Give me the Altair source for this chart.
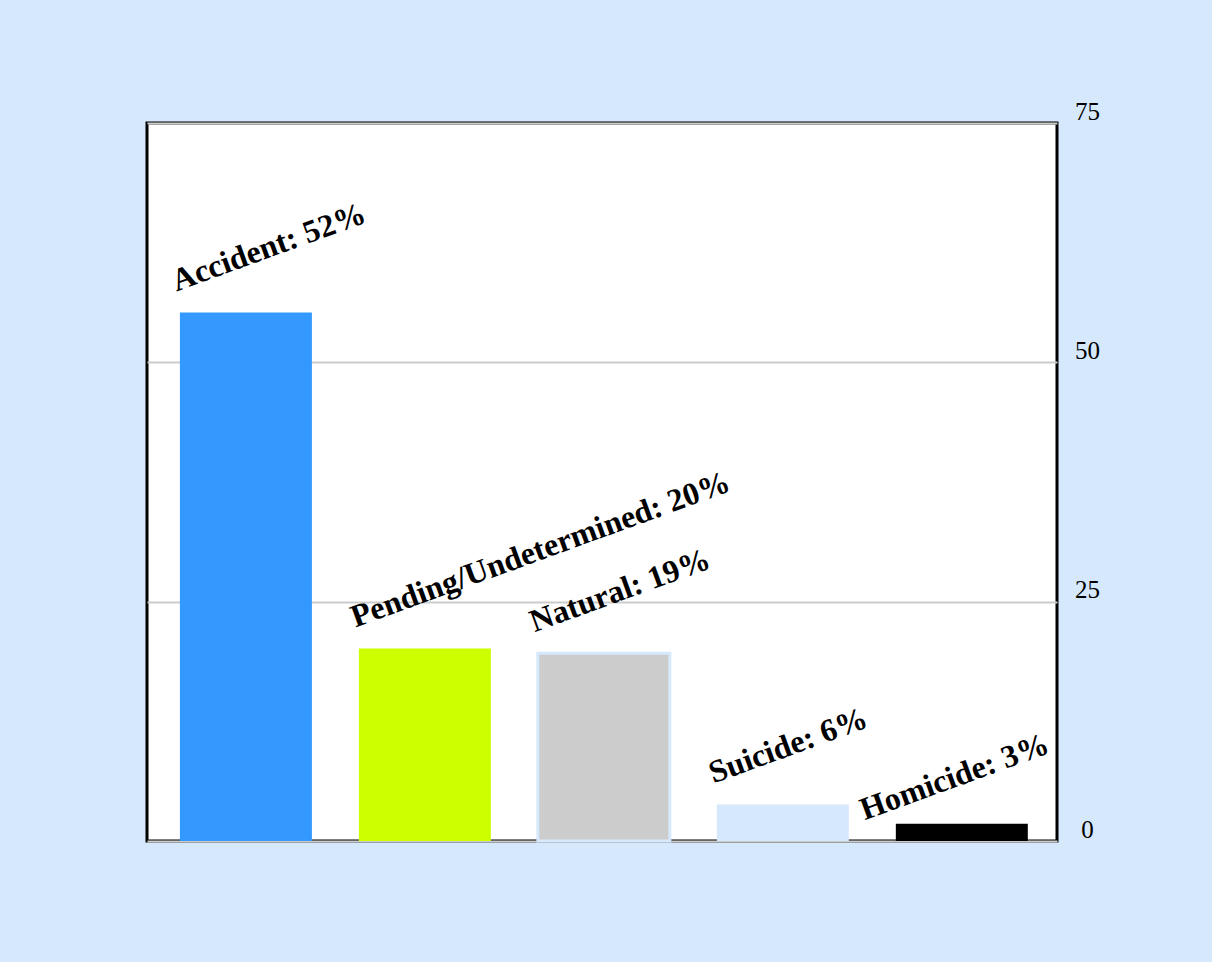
import altair as alt
import pandas as pd

causes = ["Accident", "Pending/Undetermined", "Natural", "Suicide", "Homicide"]
values = [55.2, 20.1, 19.6, 3.8, 1.8]
labels = ["Accident: 52%", "Pending/Undetermined: 20%", "Natural: 19%", "Suicide: 6%", "Homicide: 3%"]
colors = ["#3399ff", "#ccff00", "#cccccc", "#d5e8fc", "#000000"]
y_ticks = [0, 25, 50, 75]

df = pd.DataFrame({"cause": causes, "value": values, "label": labels})

x_enc = alt.X("cause:N", sort=causes, axis=None,
              scale=alt.Scale(paddingInner=0.2626, paddingOuter=0.1735, align=0.53))
y_scale = alt.Scale(domain=[0, 75], nice=False)

bars = alt.Chart(df).mark_bar(stroke="#d5e8fc").encode(
    x=x_enc,
    y=alt.Y("value:Q", scale=y_scale,
            axis=alt.Axis(orient="right", values=y_ticks, title=None, domain=False,
                          ticks=False, grid=True, gridColor="#cccccc", gridWidth=2,
                          labelFont="Liberation Serif", labelFontSize=25,
                          labelColor="#000000", labelAlign="center", labelPadding=30,
                          labelBaseline="alphabetic", labelOffset=-4)),
    color=alt.Color("cause:N", scale=alt.Scale(domain=causes, range=colors), legend=None),
    strokeWidth=alt.condition(alt.datum.cause == "Natural", alt.value(3), alt.value(0)),
)

text_base = dict(align="left", baseline="alphabetic", angle=340,
                 font="Liberation Serif", fontWeight="bold", fontSize=32, color="#000000")

txt_main = alt.Chart(df).transform_filter(alt.datum.cause != "Homicide").mark_text(
    dx=4, dy=-21, **text_base
).encode(
    x=alt.X("cause:N", sort=causes, bandPosition=0),
    y=alt.Y("value:Q", scale=y_scale),
    text="label:N",
)

txt_last = alt.Chart(df).transform_filter(alt.datum.cause == "Homicide").mark_text(
    dx=-28, dy=-14, **text_base
).encode(
    x=alt.X("cause:N", sort=causes, bandPosition=0),
    y=alt.Y("value:Q", scale=y_scale),
    text="label:N",
)

chart = alt.layer(bars, txt_main, txt_last).properties(
    width=910, height=718,
    autosize=alt.AutoSizeParams(type="none"),
    padding={"left": 147, "top": 123, "right": 155, "bottom": 121},
    background="#d5e8fc",
).configure_view(
    fill="#ffffff", stroke="#000000", strokeWidth=3
)

chart.save("out.html", embed_options={"renderer": "svg", "actions": False})
